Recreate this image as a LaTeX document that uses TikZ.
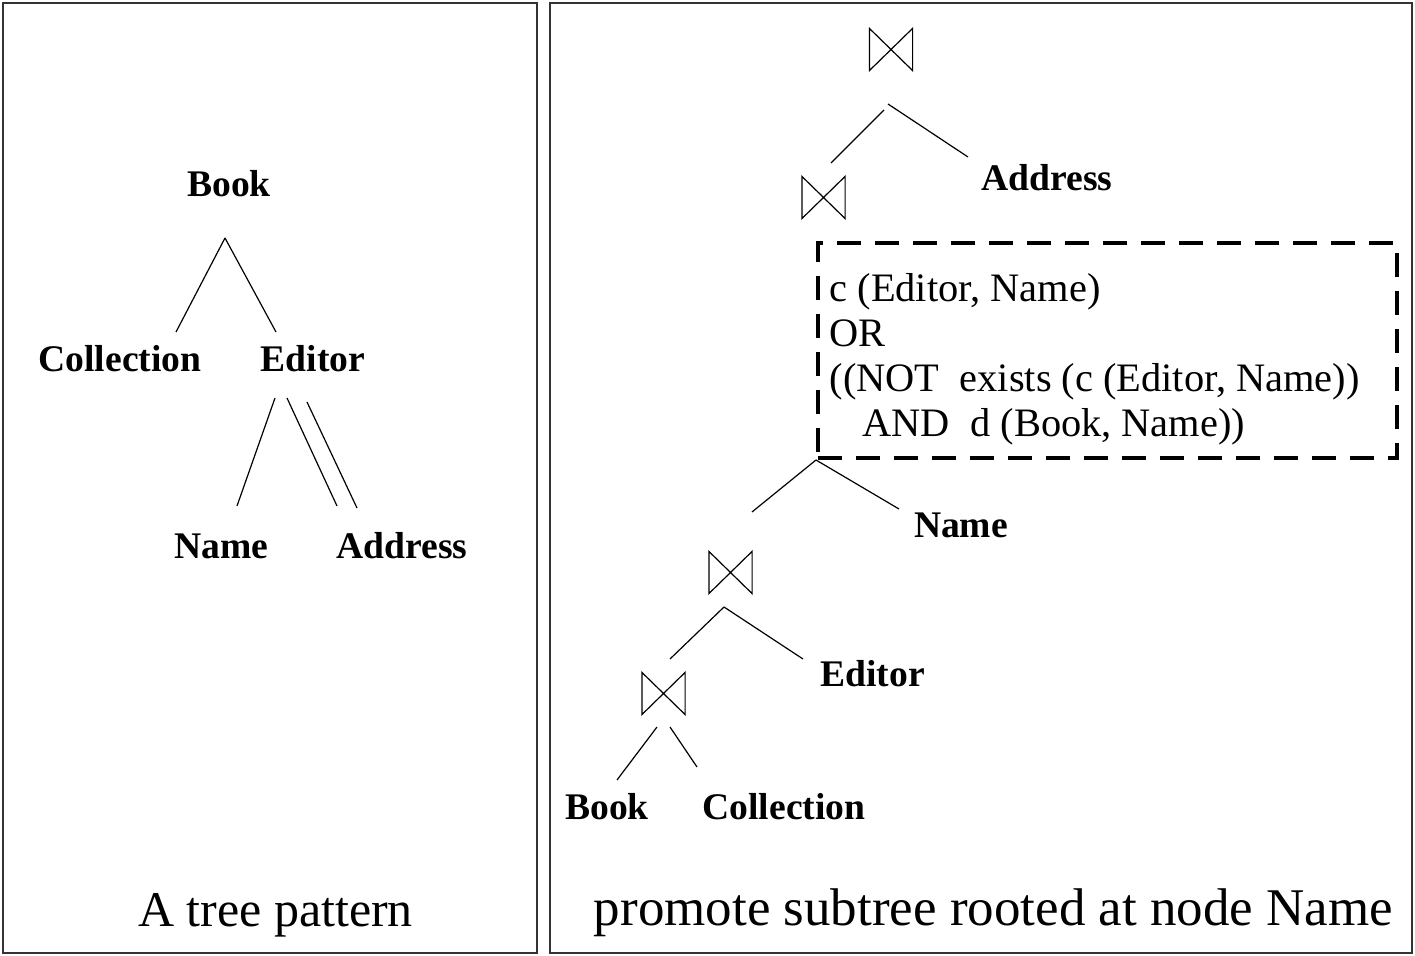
\documentclass[tikz,border=0pt]{standalone}
\usepackage{fontspec}
\setmainfont{Liberation Serif}

\begin{document}
\begin{tikzpicture}[x=0.5pt, y=-0.5pt, line width=0.6pt]
			\tikzstyle{panel}=[
			draw=black!80,
			line width=0.8pt
			]
			\tikzstyle{tagnode}=[
			inner sep=0pt,
			anchor=base,
			font=\fontsize{18.8pt}{20pt}\selectfont\bfseries
			]
			\tikzstyle{joinnode}=[
			rectangle,
			inner sep=0pt,
			minimum width=21pt,
			minimum height=20.5pt
			]
			\tikzstyle{condnode}=[
			draw,
			line width=2pt,
			dash pattern=on 12pt off 7pt,
			minimum width=289.5pt,
			minimum height=107.5pt
			]
			\tikzstyle{condtext}=[
			anchor=north west,
			inner sep=0pt,
			align=left,
			font=\fontsize{20.2pt}{22.5pt}\selectfont
			]
			\tikzstyle{captionnode}=[
			inner sep=0pt,
			anchor=base,
			font=\fontsize{25pt}{30pt}\selectfont
			]
			\useasboundingbox (0,0) rectangle (1415,956);
			\draw[panel] (3,3) rectangle (537,953);
			\draw[panel] (550,3) rectangle (1412,953);
			% tree pattern
			\node[tagnode] (lbook) at (229,197) {Book};
			\node[tagnode] (lcoll) at (120,372) {Collection};
			\node[tagnode] (ledit) at (313,372) {Editor};
			\node[tagnode] (lname) at (221.5,559) {Name};
			\node[tagnode] (laddr) at (402,559) {Address};
			\draw ([shift={(-4,41)}]lbook.base) -- ([shift={(56,-40)}]lcoll.base);
			\draw ([shift={(-4,41)}]lbook.base) -- ([shift={(-37,-40)}]ledit.base);
			\draw ([shift={(-38,26)}]ledit.base) -- ([shift={(15.5,-53)}]lname.base);
			\draw ([shift={(-26,26)}]ledit.base) -- ([shift={(-65,-53)}]laddr.base);
			\draw ([shift={(-6,30)}]ledit.base) -- ([shift={(-45,-51)}]laddr.base);
			\node[captionnode] (lcap) at (275.5,927) {A tree pattern};
			% promoted plan
			\node[joinnode] (j1) at (891,49.5) {};
			\node[joinnode] (j2) at (823.5,197.5) {};
			\node[joinnode] (j3) at (730.5,572.5) {};
			\node[joinnode] (j4) at (663.5,693.5) {};
			\foreach \j in {j1,j2,j3,j4}
				\draw (\j.north west) -- (\j.south west) -- (\j.north east) -- (\j.south east) -- cycle;
			\node[tagnode] (raddr) at (1047,191) {Address};
			\node[tagnode] (rname) at (961,538) {Name};
			\node[tagnode] (redit) at (872.5,687) {Editor};
			\node[tagnode] (rbook) at (607,820) {Book};
			\node[tagnode] (rcoll) at (784,820) {Collection};
			\node[condnode] (cond) at (1107.5,350.5) {};
			\node[condtext] (cstext) at (829,273) {c (Editor, Name)\\OR\\((NOT\ \ exists (c (Editor, Name))\\\hspace*{16.5pt}AND\ \ d (Book, Name))};
			\draw ([shift={(-7,60.5)}]j1.center) -- ([shift={(7.5,-34.5)}]j2.center);
			\draw ([shift={(-3,54.5)}]j1.center) -- ([shift={(-79,-34)}]raddr.base);
			\draw (cond.south west) -- ([shift={(21.5,-60.5)}]j3.center);
			\draw (cond.south west) -- ([shift={(-62,-29)}]rname.base);
			\draw ([shift={(-6.5,34.5)}]j3.center) -- ([shift={(6.5,-34.5)}]j4.center);
			\draw ([shift={(-6.5,34.5)}]j3.center) -- ([shift={(-69.5,-28)}]redit.base);
			\draw ([shift={(-6.5,33.5)}]j4.center) -- ([shift={(10,-40)}]rbook.base);
			\draw ([shift={(6.5,33.5)}]j4.center) -- ([shift={(-87,-53)}]rcoll.base);
			\node[captionnode, font=\fontsize{26.5pt}{30pt}\selectfont] (rcap) at (993.5,926) {promote subtree rooted at node Name};
		\end{tikzpicture}
\end{document}
